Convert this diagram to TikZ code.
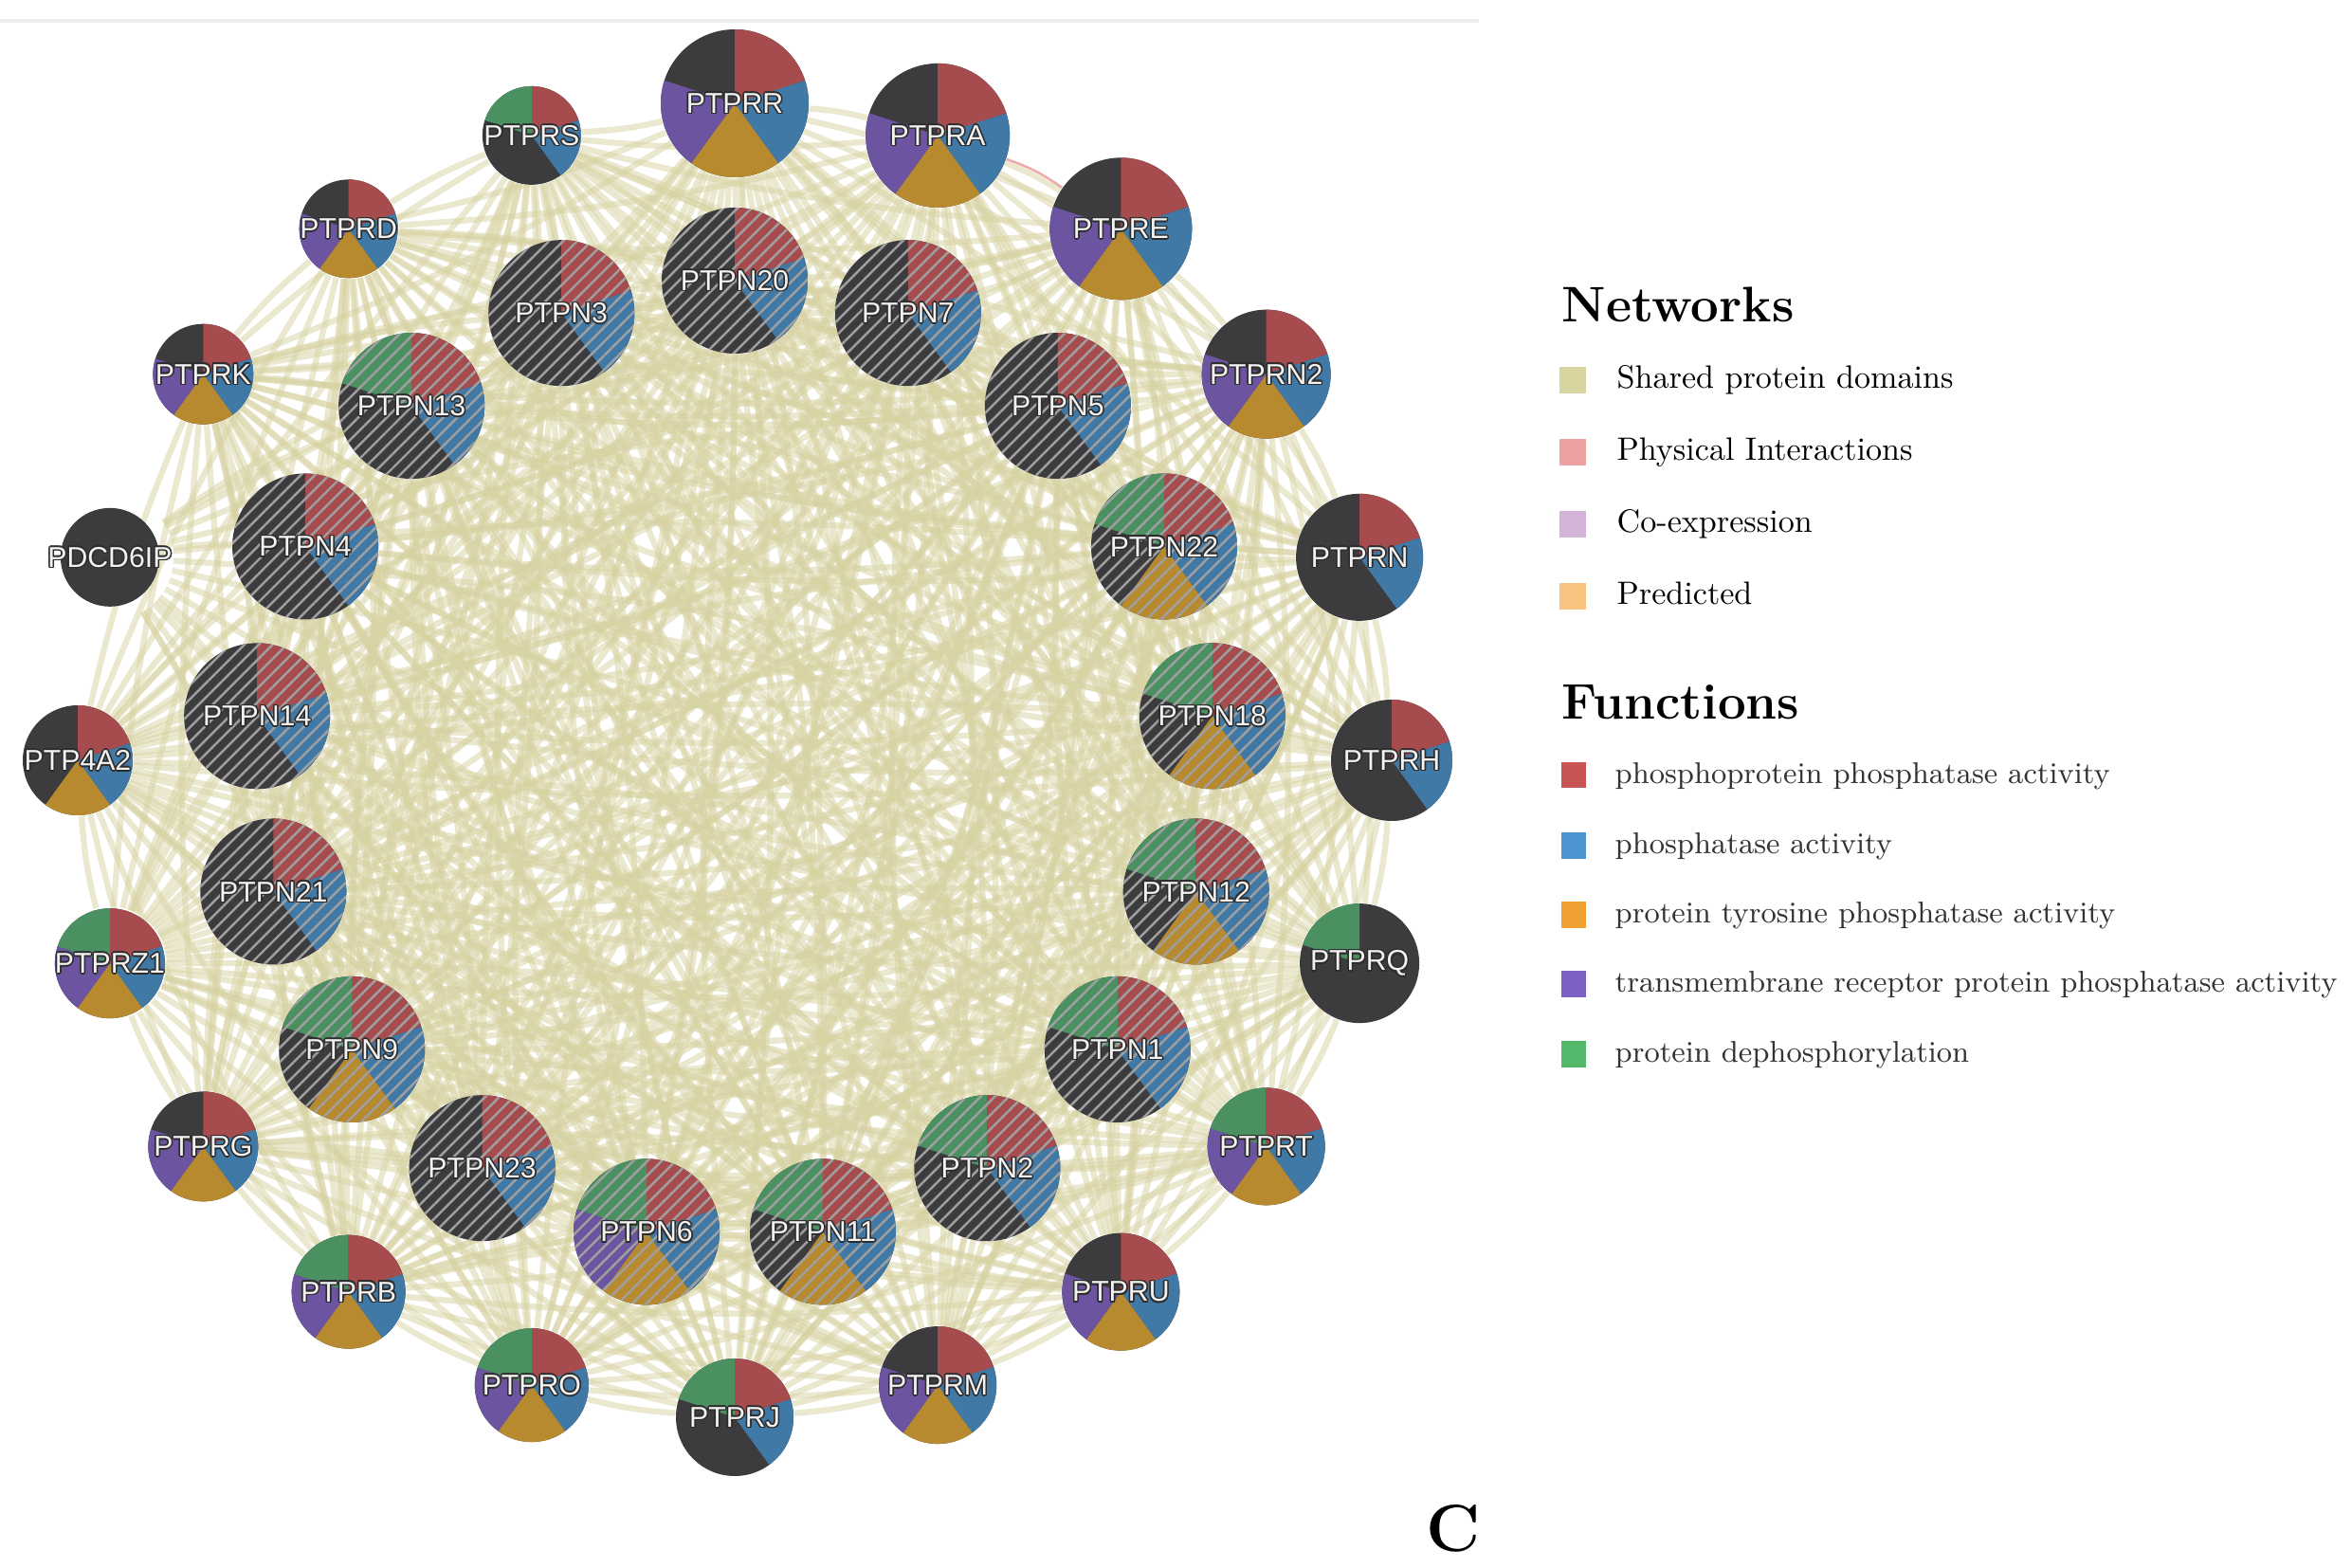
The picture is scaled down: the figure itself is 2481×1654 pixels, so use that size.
\documentclass[tikz,border=0pt]{standalone}
\usepackage{fontspec}
\newfontfamily\labfont{Liberation Sans}
\usetikzlibrary{patterns.meta,backgrounds}
\definecolor{cR}{RGB}{166,76,78}
\definecolor{cB}{RGB}{64,120,166}
\definecolor{cO}{RGB}{184,138,48}
\definecolor{cP}{RGB}{108,84,160}
\definecolor{cG}{RGB}{74,144,96}
\definecolor{cK}{RGB}{60,60,62}
\definecolor{olc}{RGB}{45,45,45}
\definecolor{labw}{RGB}{242,242,242}
\definecolor{edgec}{RGB}{216,211,163}
\definecolor{pinkc}{RGB}{232,150,150}
\definecolor{lgShared}{RGB}{216,212,160}
\definecolor{lgPhys}{RGB}{237,161,161}
\definecolor{lgCoex}{RGB}{212,180,216}
\definecolor{lgPred}{RGB}{248,196,128}
\definecolor{lfR}{RGB}{200,84,84}
\definecolor{lfB}{RGB}{76,148,207}
\definecolor{lfO}{RGB}{240,160,48}
\definecolor{lfP}{RGB}{124,96,196}
\definecolor{lfG}{RGB}{82,184,106}
\definecolor{topline}{RGB}{238,238,238}
\newcommand\olsh[3]{\rlap{\hspace*{#1}\raisebox{#2}{\textcolor{olc}{#3}}}}
\newcommand\olab[1]{\leavevmode\olsh{0.45pt}{0pt}{#1}\olsh{-0.45pt}{0pt}{#1}\olsh{0pt}{0.45pt}{#1}\olsh{0pt}{-0.45pt}{#1}\olsh{0.35pt}{0.35pt}{#1}\olsh{-0.35pt}{0.35pt}{#1}\olsh{0.35pt}{-0.35pt}{#1}\olsh{-0.35pt}{-0.35pt}{#1}\textcolor{labw}{#1}}
\newcommand\gslice[2]{\fill[#2] (\curC) -- ++({90-72*#1}:\curR) arc[start angle={90-72*#1}, delta angle=-72, radius=\curR] -- cycle;}
\def\gslices#1#2#3#4#5\relax{%
  \fill[cK] (\curC) circle[radius=\curR];
  \ifnum#1=1 \gslice{0}{cR}\fi
  \ifnum#2=1 \gslice{1}{cB}\fi
  \ifnum#3=1 \gslice{2}{cO}\fi
  \ifnum#4=1 \gslice{3}{cP}\fi
  \ifnum#5=1 \gslice{4}{cG}\fi}
% name, angle, ring radius, node radius, label, bits (R B O P G), hatch
\newcommand\gnode[7]{%
  \coordinate (c-#1) at ({775+#3*cos(#2)},{852+#3*sin(#2)});
  \def\curR{#4}\def\curC{c-#1}%
  \expandafter\gslices#6\relax
  \ifnum#7=1 \fill[hatchfill] (c-#1) circle[radius=#4];\fi
  \node[gn, minimum size={#4*0.02cm}] (#1) at (c-#1) {\olab{#5}};
}
\tikzset{
  gn/.style={circle, inner sep=0pt, font=\labfont\fontsize{8.6}{10}\selectfont},
  hatchfill/.style={pattern={Lines[angle=45,distance=3pt,line width=0.7pt]}, pattern color=gray!75, fill opacity=0.45},
  edge/.style={draw=edgec, line width=1.8pt, draw opacity=0.5},
  pinkedge/.style={draw=pinkc, line width=0.7pt, draw opacity=0.8},
  lsq/.style={inner sep=0pt, minimum width=0.28cm, minimum height=0.28cm},
  fsq/.style={inner sep=0pt, minimum width=0.26cm, minimum height=0.27cm},
  ltitle/.style={anchor=base west, inner sep=0pt, font=\fontsize{15}{18}\selectfont\bfseries},
  ltext/.style={anchor=base west, inner sep=0pt, font=\fontsize{9.7}{12}\selectfont},
  ftext/.style={anchor=base west, inner sep=0pt, text=black!80, font=\fontsize{9}{11}\selectfont},
}
\begin{document}
\begin{tikzpicture}[x=0.01cm, y=0.01cm]
\useasboundingbox (0,0) rectangle (2481,1654);
% outer ring
\foreach \nm/\r/\bits [count=\k from 0] in {
  PTPRR/78/11110, PTPRA/76/11110, PTPRE/75/11110, PTPRN2/68/11110,
  PTPRN/67/11000, PTPRH/64/11000, PTPRQ/63/00001, PTPRT/62/11111,
  PTPRU/62/11110, PTPRM/62/11110, PTPRJ/62/11001, PTPRO/60/11111,
  PTPRB/60/11111, PTPRG/58/11110, PTPRZ1/58/11111, PTP4A2/58/11100,
  PDCD6IP/52/00000, PTPRK/53/11110, PTPRD/52/11110, PTPRS/52/11001}
{ \gnode{\nm}{90-18*\k}{693}{\r}{\nm}{\bits}{0} }
% inner ring
\foreach \nm/\bits [count=\k from 0] in {
  PTPN20/11000, PTPN7/11000, PTPN5/11000, PTPN22/11101, PTPN18/11101,
  PTPN12/11101, PTPN1/11001, PTPN2/11001, PTPN11/11101, PTPN6/11111,
  PTPN23/11000, PTPN9/11101, PTPN21/11000, PTPN14/11000, PTPN4/11000,
  PTPN13/11001, PTPN3/11000}
{ \gnode{\nm}{90-21.17647*\k}{506}{77}{\nm}{\bits}{1} }
% connectors
\def\allnames{PTPRR,PTPRA,PTPRE,PTPRN2,PTPRN,PTPRH,PTPRQ,PTPRT,PTPRU,PTPRM,PTPRJ,PTPRO,PTPRB,PTPRG,PTPRZ1,PTP4A2,PTPRK,PTPRD,PTPRS,PTPN20,PTPN7,PTPN5,PTPN22,PTPN18,PTPN12,PTPN1,PTPN2,PTPN11,PTPN6,PTPN23,PTPN9,PTPN21,PTPN14,PTPN4,PTPN13,PTPN3}
\def\innernames{PTPN20,PTPN7,PTPN5,PTPN22,PTPN18,PTPN12,PTPN1,PTPN2,PTPN11,PTPN6,PTPN23,PTPN9,PTPN21,PTPN14,PTPN4,PTPN13,PTPN3}
\begin{scope}[on background layer]
\fill[white] (0,0) rectangle (2481,1654);
\fill[topline] (0,1630) rectangle (1560,1634);
\foreach \a [count=\i] in \allnames {
  \foreach \b [count=\j] in \allnames {
    \ifnum\j>\i \draw[edge] (\a) to[bend left=5] (\b);\fi
  }
}
\foreach \b in \innernames { \draw[edge] (PDCD6IP) to[bend left=5] (\b); }
\draw[pinkedge] (PTPRA) to[bend left=8] (PTPRE);
\end{scope}
% legend
\node[ltitle] (nettitle) at (1647,1314) {Networks};
\node[lsq, fill=lgShared] (sq1) at (1659,1253) {};
\node[lsq, fill=lgPhys] (sq2) at (1659,1177) {};
\node[lsq, fill=lgCoex] (sq3) at (1659,1101) {};
\node[lsq, fill=lgPred] (sq4) at (1659,1025) {};
\node[ltext] (nt1) at (1705,1244) {Shared protein domains};
\node[ltext] (nt2) at (1705,1168) {Physical Interactions};
\node[ltext] (nt3) at (1705,1092) {Co-expression};
\node[ltext] (nt4) at (1705,1016) {Predicted};
\node[ltitle] (funtitle) at (1647,895) {Functions};
\node[fsq, fill=lfR] (fq1) at (1659.5,836) {};
\node[fsq, fill=lfB] (fq2) at (1659.5,762) {};
\node[fsq, fill=lfO] (fq3) at (1659.5,689) {};
\node[fsq, fill=lfP] (fq4) at (1659.5,616) {};
\node[fsq, fill=lfG] (fq5) at (1659.5,542) {};
\node[ftext] (ft1) at (1703,827) {phosphoprotein phosphatase activity};
\node[ftext] (ft2) at (1703,753) {phosphatase activity};
\node[ftext] (ft3) at (1703,680) {protein tyrosine phosphatase activity};
\node[ftext] (ft4) at (1703,607) {transmembrane receptor protein phosphatase activity};
\node[ftext] (ft5) at (1703,533) {protein dephosphorylation};
\node[anchor=base, inner sep=0pt, font=\fontsize{20}{24}\selectfont\bfseries] (panel) at (1533,18) {C};
\end{tikzpicture}
\end{document}
